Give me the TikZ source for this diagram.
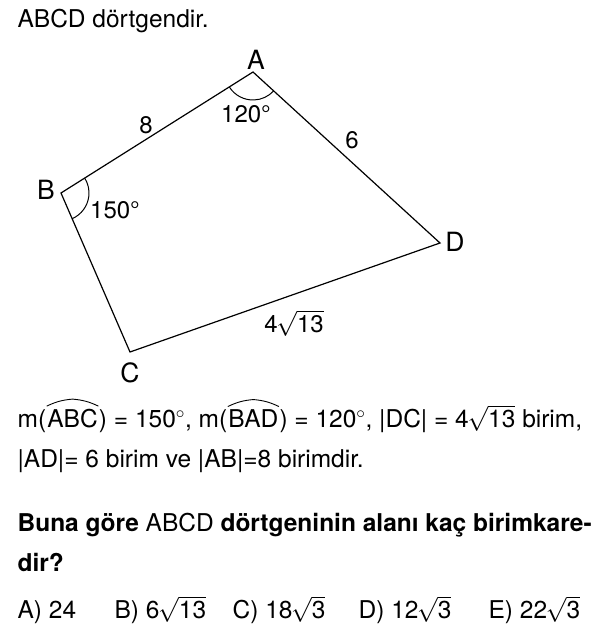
\documentclass[tikz,border=0pt]{standalone}
\usepackage{fontspec}
\setmainfont{TeX Gyre Heros}
\usetikzlibrary{angles}
\newcommand{\kok}[1]{$\mkern-1mu\sqrt{\mbox{#1}}$}
\begin{document}
\begin{tikzpicture}[x=1pt,y=1pt,line width=1.2pt,
    txt/.style={anchor=base west,inner sep=0pt,font=\fontsize{24.5}{28}\selectfont},
    lbl/.style={inner sep=0pt,font=\fontsize{24}{28}\selectfont},
    kose/.style={inner sep=0pt,font=\fontsize{26.5}{30}\selectfont},
    sapka/.style={line width=0.9pt}]
  \useasboundingbox (0,0) rectangle (599,641);
  \node[txt] (baslik) at (17,613) {ABCD dörtgendir.};
  % dortgen
  \coordinate (A) at (253,569);
  \coordinate (B) at (61,448);
  \coordinate (C) at (130,289);
  \coordinate (D) at (440,398);
  \draw[line join=miter] (A) -- (B) -- (C) -- (D) -- cycle;
  \pic[draw,line width=1pt,angle radius=28pt] {angle=B--A--D};
  \pic[draw,line width=1pt,angle radius=28pt] {angle=C--B--A};
  \node[kose] (la) at (256,581) {A};
  \node[kose] (lb) at (46,451) {B};
  \node[kose] (lc) at (130,268) {C};
  \node[kose] (ld) at (455,399) {D};
  \node[lbl] (aa) at (246,527) {120°};
  \node[lbl] (ab) at (115,431) {150°};
  \node[lbl] (ab8) at (146,516) {8};
  \node[lbl] (ad6) at (352,501) {6};
  \node[lbl] (dc) at (294,318) {4\kok{13}};
  % metin
  \node[txt] (s1a) at (17,213) {m(};
  \node[txt] (abc) at (s1a.base east) {ABC};
  \node[txt] (s1b) at (abc.base east) {) = 150$^\circ$, m(};
  \node[txt] (bad) at (s1b.base east) {BAD};
  \node[txt] (s1c) at (bad.base east) {) = 120$^\circ$, |DC| = 4\kok{13} birim,};
  \foreach \k in {abc,bad}
    \draw[sapka] ([yshift=3pt]\k.north west) to[bend left=10] ([yshift=10pt]\k.north)
      to[bend left=10] ([yshift=3pt]\k.north east);
  \node[txt] (s2) at (17,173) {|AD|= 6 birim ve |AB|=8 birimdir.};
  \node[txt] (s3) at (17,109) {\bfseries Buna göre \mdseries ABCD \bfseries dörtgeninin alanı kaç birimkare-};
  \node[txt] (s4) at (17,69) {\bfseries dir?};
  \node[txt] (ca) at (17,22) {A) 24};
  \node[txt] (cb) at (114,22) {B) 6\kok{13}};
  \node[txt] (cc) at (232,22) {C) 18\kok{3}};
  \node[txt] (cd) at (358,22) {D) 12\kok{3}};
  \node[txt] (ce) at (488,22) {E) 22\kok{3}};
\end{tikzpicture}
\end{document}
